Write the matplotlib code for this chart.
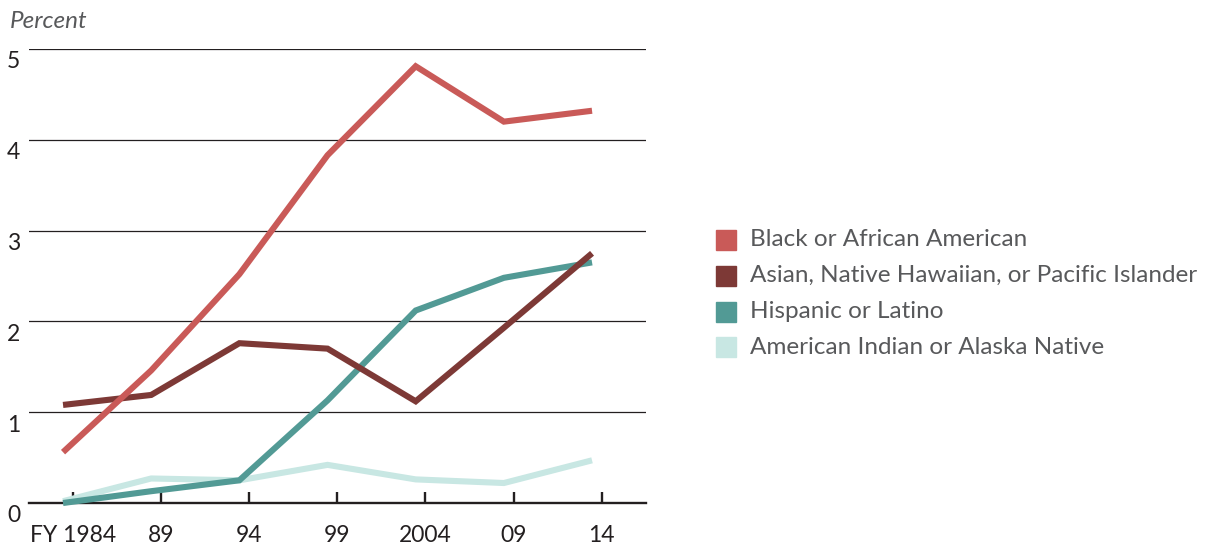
import numpy as np
import matplotlib
matplotlib.use("Agg")
import matplotlib.pyplot as plt
from matplotlib.patches import Rectangle
from matplotlib import transforms

plt.rcParams['font.family'] = ['Lato', 'DejaVu Sans']

# data (percent)
years = [1984, 1989, 1994, 1999, 2004, 2009, 2014]
year_labels = ["FY 1984", "89", "94", "99", "2004", "09", "14"]
black = [0.56, 1.46, 2.52, 3.83, 4.81, 4.20, 4.32]
asian = [1.08, 1.19, 1.76, 1.70, 1.12, 1.93, 2.75]
hispanic = [0.00, 0.13, 0.25, 1.13, 2.12, 2.48, 2.65]
aian = [0.02, 0.27, 0.25, 0.42, 0.26, 0.22, 0.47]

series_names = ["Black or African American",
                "Asian, Native Hawaiian, or Pacific Islander",
                "Hispanic or Latino",
                "American Indian or Alaska Native"]
colors = ["#c95a58", "#7d3936", "#529a95", "#c8e7e3"]

W, H = 1212, 548
fig = plt.figure(figsize=(W / 100, H / 100), dpi=100)
ax = fig.add_axes([29 / W, 1 - 503 / H, (646 - 29) / W, (503 - 49) / H])

# plot order: light ones underneath
x = np.array(years) - 0.55
for vals, c, z in [(aian, colors[3], 2), (hispanic, colors[2], 3),
                   (asian, colors[1], 4), (black, colors[0], 5)]:
    ax.plot(x, vals, color=c, lw=4.4, solid_capstyle='butt',
            solid_joinstyle='miter', clip_on=False, zorder=z)

ax.set_xlim(1981.52, 2016.51)
ax.set_ylim(0, 5)

for s in ['top', 'right', 'left']:
    ax.spines[s].set_visible(False)
ax.spines['bottom'].set_linewidth(1.7)
ax.spines['bottom'].set_color('#231f20')
ax.spines['bottom'].set_zorder(1)

ax.set_yticks([1, 2, 3, 4, 5])
ax.yaxis.grid(True, color='#231f20', lw=0.9)
ax.set_axisbelow(True)
ax.tick_params(axis='y', length=0, labelleft=False)

ax.set_xticks(years)
ax.set_xticklabels(year_labels, fontsize=16.5, color='#231f20')
ax.tick_params(axis='x', direction='in', length=8, width=1.7,
               color='#231f20', pad=16)

# y labels sit just below each gridline at the far left
trans = transforms.blended_transform_factory(fig.transFigure, ax.transData) + \
    transforms.ScaledTranslation(0, -13 / 100, fig.dpi_scale_trans)
for v in range(0, 6):
    ax.text(7 / W, v, str(v), transform=trans, fontsize=16.5,
            color='#231f20', ha='left', va='center')

fig.text(10 / W, 1 - 22 / H, "Percent", fontsize=17.5, style='italic',
         color='#58595b', ha='left', va='center')

# legend
row_y = [240, 275.5, 311.5, 347]
for name, c, yy in zip(series_names, colors, row_y):
    fig.patches.append(Rectangle((716 / W, 1 - (yy + 10) / H), 20 / W, 20 / H,
                                 transform=fig.transFigure, color=c))
    fig.text(750 / W, 1 - yy / H, name, fontsize=17.5, color='#58595b',
             ha='left', va='center')

fig.savefig("out.png", dpi=100)
